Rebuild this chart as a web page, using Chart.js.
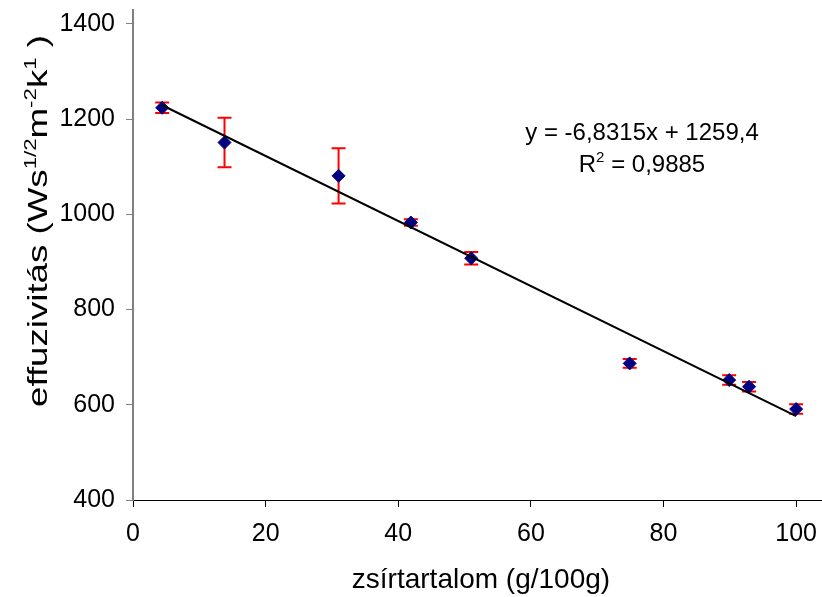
<!DOCTYPE html>
<html>
<head>
<meta charset="utf-8">
<script src="https://cdn.jsdelivr.net/npm/chart.js@4"></script>
<style>
    body { margin: 0; background: #fff; }
    #wrap { width: 822px; height: 597px; position: relative; }
</style>
</head>
<body>
<div id="wrap"><canvas id="effChart"></canvas></div>
<script>
// fat content (g/100g) and effusivity readings
const fatContent = [4.4, 13.8, 31.0, 41.9, 51.0, 74.9, 89.9, 92.9, 100];
const effusivity = [1224, 1151, 1081, 983, 908, 687, 652, 638, 591];
const errorSize = [11, 52, 58, 7, 13, 9, 10, 10, 10];

// trendline ends (y = -6,8315x + 1259,4)
const trendX = [4.4, 100];
const trendY = [1229.3, 576.3];

const xTicks = [0, 20, 40, 60, 80, 100];
const yTicks = [400, 600, 800, 1000, 1200, 1400];

const FONT = "'Liberation Sans', Arial, sans-serif";

const extras = {
    id: "extras",
    beforeDatasetsDraw(chart) {
        const ctx = chart.ctx;
        const xs = chart.scales.x, ys = chart.scales.y;
        ctx.save();
        ctx.strokeStyle = "#ff0000";
        ctx.lineWidth = 2;
        fatContent.forEach((fx, i) => {
            const px = xs.getPixelForValue(fx);
            const top = ys.getPixelForValue(effusivity[i] + errorSize[i]);
            const bot = ys.getPixelForValue(effusivity[i] - errorSize[i]);
            ctx.beginPath();
            ctx.moveTo(px, top); ctx.lineTo(px, bot);
            ctx.moveTo(px - 7, top); ctx.lineTo(px + 7, top);
            ctx.moveTo(px - 7, bot); ctx.lineTo(px + 7, bot);
            ctx.stroke();
        });
        ctx.restore();
    },
    afterDraw(chart) {
        const ctx = chart.ctx;
        ctx.save();
        ctx.fillStyle = "#000";

        // equation
        ctx.font = "24px " + FONT;
        ctx.textAlign = "center";
        ctx.textBaseline = "alphabetic";
        ctx.fillText("y = -6,8315x + 1259,4", 642, 140);
        ctx.textAlign = "left";
        const r1 = "R", r2 = "2", r3 = " = 0,9885";
        ctx.font = "24px " + FONT;
        const w1 = ctx.measureText(r1).width, w3 = ctx.measureText(r3).width;
        ctx.font = "15px " + FONT;
        const w2 = ctx.measureText(r2).width;
        let sx = 642 - (w1 + w2 + w3) / 2;
        ctx.font = "24px " + FONT;
        ctx.fillText(r1, sx, 172);
        ctx.font = "15px " + FONT;
        ctx.fillText(r2, sx + w1, 162);
        ctx.font = "24px " + FONT;
        ctx.fillText(r3, sx + w1 + w2, 172);

        // x title
        ctx.font = "28px " + FONT;
        ctx.textAlign = "center";
        ctx.fillText("zsírtartalom (g/100g)", 481, 588);

        // y title with superscripts
        const parts = [
            ["effuzivitás (Ws", false],
            ["1/2", true],
            ["m", false],
            ["-2", true],
            ["k", false],
            ["1", true],
            [" )", false]
        ];
        let total = 0;
        parts.forEach(p => {
            ctx.font = (p[1] ? "17px " : "28px ") + FONT;
            total += ctx.measureText(p[0]).width;
        });
        const stretch = 372 / total;
        ctx.translate(47, 221);
        ctx.rotate(-Math.PI / 2);
        ctx.scale(stretch, 1);
        ctx.textAlign = "left";
        let cx = -total / 2;
        parts.forEach(p => {
            ctx.font = (p[1] ? "17px " : "28px ") + FONT;
            ctx.fillText(p[0], cx, p[1] ? -11 : 0);
            cx += ctx.measureText(p[0]).width;
        });
        ctx.restore();
    }
};

new Chart(document.getElementById("effChart"), {
    type: "scatter",
    data: {
        datasets: [
            {
                label: "trend",
                type: "line",
                data: trendX.map((v, i) => ({ x: v, y: trendY[i] })),
                borderColor: "#000",
                borderWidth: 2,
                pointRadius: 0,
                fill: false,
                order: 0
            },
            {
                label: "effuzivitás",
                data: fatContent.map((v, i) => ({ x: v, y: effusivity[i] })),
                pointStyle: "rectRot",
                pointRadius: 6.5,
                backgroundColor: "#000080",
                borderColor: "#000080",
                borderWidth: 1,
                order: 1
            }
        ]
    },
    options: {
        responsive: true,
        maintainAspectRatio: false,
        animation: false,
        layout: { autoPadding: false, padding: { top: 10, right: 0, left: 0, bottom: 0 } },
        plugins: {
            legend: { display: false },
            tooltip: { enabled: false }
        },
        scales: {
            x: {
                type: "linear",
                min: 0,
                max: 103.9,
                afterBuildTicks: axis => { axis.ticks = xTicks.map(v => ({ value: v })); },
                afterFit: axis => {
                    axis.height = 97;
                    axis.paddingLeft = 0;
                    axis.paddingRight = 0;
                },
                grid: { drawOnChartArea: false, tickLength: 7, color: "#000" },
                border: { color: "#000", width: 1 },
                ticks: {
                    autoSkip: false,
                    maxRotation: 0,
                    padding: 12,
                    color: "#000",
                    font: { family: FONT, size: 25 },
                    callback: v => String(v)
                }
            },
            y: {
                min: 400,
                max: 1429.4,
                afterBuildTicks: axis => { axis.ticks = yTicks.map(v => ({ value: v })); },
                afterFit: axis => {
                    axis.width = 133;
                    axis.paddingTop = 0;
                    axis.paddingBottom = 0;
                },
                grid: { drawOnChartArea: false, tickLength: 7, color: "#808080" },
                border: { color: "#808080", width: 2 },
                ticks: {
                    padding: 11,
                    color: "#000",
                    font: { family: FONT, size: 25 },
                    callback: v => String(v)
                }
            }
        }
    },
    plugins: [extras]
});
</script>
</body>
</html>
